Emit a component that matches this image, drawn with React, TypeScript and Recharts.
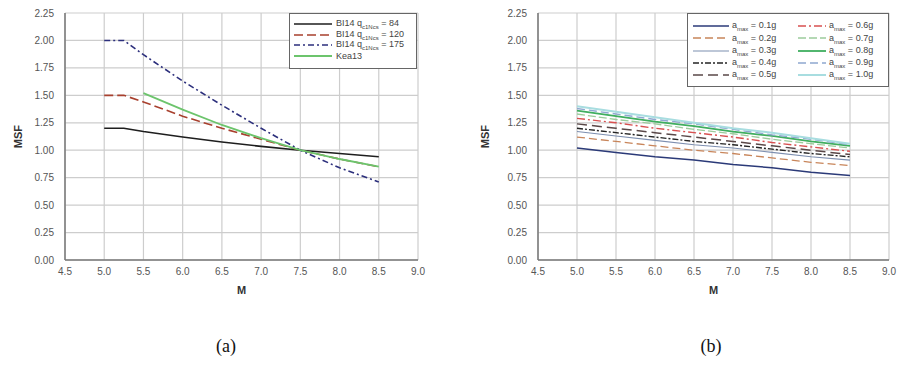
import React from 'react';
import { LineChart, Line, XAxis, YAxis, CartesianGrid, Legend } from 'recharts';

// magnitudes and MSF values
const mLeft = [5.0, 5.25, 5.5, 6.0, 6.5, 7.0, 7.5, 8.0, 8.5];
const bi84 = [1.2, 1.2, 1.17, 1.12, 1.075, 1.035, 1.0, 0.97, 0.94];
const bi120 = [1.5, 1.5, 1.44, 1.31, 1.2, 1.1, 1.0, 0.92, 0.85];
const bi175 = [2.0, 2.0, 1.87, 1.63, 1.41, 1.2, 1.0, 0.84, 0.71];
const kea13 = [null, null, 1.52, 1.37, 1.23, 1.11, 1.0, 0.92, 0.85];

const mRight = [5.0, 5.5, 6.0, 6.5, 7.0, 7.5, 8.0, 8.5];
const a01 = [1.02, 0.98, 0.94, 0.91, 0.87, 0.84, 0.8, 0.77];
const a02 = [1.12, 1.08, 1.04, 1.0, 0.97, 0.93, 0.89, 0.86];
const a03 = [1.17, 1.13, 1.09, 1.05, 1.02, 0.98, 0.94, 0.91];
const a04 = [1.2, 1.16, 1.12, 1.08, 1.05, 1.01, 0.97, 0.94];
const a05 = [1.24, 1.2, 1.16, 1.12, 1.08, 1.04, 1.0, 0.96];
const a06 = [1.29, 1.25, 1.2, 1.16, 1.12, 1.07, 1.03, 0.99];
const a07 = [1.33, 1.28, 1.24, 1.19, 1.15, 1.1, 1.06, 1.02];
const a08 = [1.36, 1.31, 1.26, 1.22, 1.17, 1.13, 1.08, 1.04];
const a09 = [1.38, 1.33, 1.28, 1.24, 1.19, 1.14, 1.1, 1.05];
const a10 = [1.4, 1.35, 1.3, 1.25, 1.2, 1.16, 1.11, 1.06];

const xTicks = [4.5, 5.0, 5.5, 6.0, 6.5, 7.0, 7.5, 8.0, 8.5, 9.0];
const yTicks = [0, 0.25, 0.5, 0.75, 1.0, 1.25, 1.5, 1.75, 2.0, 2.25];

const leftData = mLeft.map((m, i) => ({ m, bi84: bi84[i], bi120: bi120[i], bi175: bi175[i], kea13: kea13[i] }));
const rightSeries = [a01, a02, a03, a04, a05, a06, a07, a08, a09, a10];
const rightData = mRight.map((m, i) => {
  const row: any = { m };
  rightSeries.forEach((s, k) => { row['a' + k] = s[i]; });
  return row;
});

const leftStyles = [
  { key: 'bi84', q: '84', color: '#1e1e1e', dash: undefined, w: 1.6 },
  { key: 'bi120', q: '120', color: '#a8402e', dash: '9 4', w: 1.6 },
  { key: 'bi175', q: '175', color: '#2c2f7c', dash: '6 3 2 3', w: 1.6 },
];

const rightStyles = [
  { label: '0.1g', color: '#2b3a78', dash: undefined, w: 1.5 },
  { label: '0.2g', color: '#c8855a', dash: '8 4', w: 1.3 },
  { label: '0.3g', color: '#7d8fb0', dash: undefined, w: 1.1 },
  { label: '0.4g', color: '#252525', dash: '6 2 2 2', w: 1.4 },
  { label: '0.5g', color: '#5a4848', dash: '10 5', w: 1.5 },
  { label: '0.6g', color: '#d85050', dash: '8 3 2 3', w: 1.4 },
  { label: '0.7g', color: '#9ccc9c', dash: '8 3', w: 1.3 },
  { label: '0.8g', color: '#3fae5f', dash: undefined, w: 1.8 },
  { label: '0.9g', color: '#8fa8d0', dash: '8 4', w: 1.4 },
  { label: '1.0g', color: '#a8dde0', dash: undefined, w: 2 },
];

const tickStyle = { fill: '#555', fontSize: 10, fontFamily: 'Liberation Sans, Arial, sans-serif' };
const labelStyle = { fill: '#333', fontSize: 11, fontWeight: 'bold', fontFamily: 'Liberation Sans, Arial, sans-serif' };
const gridColor = '#cdcdcd';
const frameColor = '#777';

const Sample = ({ color, dash, w, len }: any) => (
  <svg width={len} height={6} style={{ display: 'block' }}>
    <line x1={0} y1={3} x2={len} y2={3} stroke={color} strokeWidth={w} strokeDasharray={dash} />
  </svg>
);

const LeftLegend = () => (
  <div style={{ border: '1.5px solid #666', background: '#fff', width: 128, height: 56, boxSizing: 'border-box', padding: '5px 0 0 4px', fontFamily: 'Liberation Sans, Arial, sans-serif', fontSize: 9, color: '#444' }}>
    {leftStyles.map((s) => (
      <div key={s.key} style={{ display: 'flex', alignItems: 'center', height: 10.5 }}>
        <Sample color={s.color} dash={s.dash} w={s.w} len={38} />
        <span style={{ marginLeft: 4, whiteSpace: 'nowrap' }}>BI14 q<sub style={{ fontSize: 6 }}>c1Ncs</sub> = {s.q}</span>
      </div>
    ))}
    <div style={{ display: 'flex', alignItems: 'center', height: 10.5 }}>
      <Sample color="#6cc46c" w={1.8} len={38} />
      <span style={{ marginLeft: 4 }}>Kea13</span>
    </div>
  </div>
);

const RightLegend = () => (
  <div style={{ border: '1.5px solid #666', background: '#fff', width: 202, height: 74, boxSizing: 'border-box', padding: '6px 0 0 5px', display: 'grid', gridTemplateColumns: '105px 95px', gridAutoFlow: 'column', gridTemplateRows: 'repeat(5, 12.3px)', fontFamily: 'Liberation Sans, Arial, sans-serif', fontSize: 9, color: '#444' }}>
    {rightStyles.map((s) => (
      <div key={s.label} style={{ display: 'flex', alignItems: 'center' }}>
        <Sample color={s.color} dash={s.dash} w={s.w} len={s.label < '0.6g' ? 36 : 28} />
        <span style={{ marginLeft: 3, whiteSpace: 'nowrap' }}>a<sub style={{ fontSize: 6 }}>max</sub> = {s.label}</span>
      </div>
    ))}
  </div>
);

const Frame = () => [
  <XAxis key="xt" xAxisId="top" orientation="top" type="number" domain={[0, 1]} height={0} tick={false} tickLine={false} axisLine={{ stroke: frameColor, strokeWidth: 1.5 }} />,
  <YAxis key="yr" yAxisId="right" orientation="right" type="number" domain={[0, 1]} width={0} tick={false} tickLine={false} axisLine={{ stroke: frameColor, strokeWidth: 1.5 }} />,
];

const axes = (yWidth: number) => [
  <CartesianGrid key="g" stroke={gridColor} strokeWidth={1.2} horizontalValues={yTicks} verticalValues={xTicks} />,
  <XAxis key="x" dataKey="m" type="number" domain={[4.5, 9]} ticks={xTicks} tickFormatter={(v: number) => v.toFixed(1)} tick={tickStyle} tickLine={false} tickMargin={2} height={40} axisLine={{ stroke: frameColor, strokeWidth: 1.5 }} label={{ value: 'M', position: 'insideBottom', offset: 6, style: labelStyle }} />,
  <YAxis key="y" type="number" domain={[0, 2.25]} ticks={yTicks} tickFormatter={(v: number) => v.toFixed(2)} tick={tickStyle} tickLine={false} tickMargin={5} width={yWidth} axisLine={{ stroke: frameColor, strokeWidth: 1.5 }} label={{ value: 'MSF', angle: -90, position: 'center', dx: yWidth === 65 ? -14 : -19, style: labelStyle }} />,
  ...Frame(),
];

export default function App() {
  return (
    <div style={{ position: 'absolute', left: 0, top: 0, width: 902, height: 369, background: '#fff' }}>
      <div style={{ position: 'absolute', left: 0, top: 0 }}>
        <LineChart width={430} height={300} data={leftData} margin={{ top: 13, right: 12, left: 0, bottom: 0 }}>
          {axes(65)}
          {leftStyles.map((s) => (
            <Line key={s.key} dataKey={s.key} type="linear" stroke={s.color} strokeWidth={s.w} strokeDasharray={s.dash} dot={false} isAnimationActive={false} />
          ))}
          <Line dataKey="kea13" type="linear" stroke="#6cc46c" strokeWidth={1.8} dot={false} isAnimationActive={false} />
          <Legend verticalAlign="middle" align="center" content={<LeftLegend />} wrapperStyle={{ top: 13, left: 289, width: 128, height: 56 }} />
        </LineChart>
      </div>
      <div style={{ position: 'absolute', left: 470, top: 0 }}>
        <LineChart width={430} height={300} data={rightData} margin={{ top: 13, right: 11, left: 0, bottom: 0 }}>
          {axes(68)}
          {rightStyles.map((s, k) => (
            <Line key={s.label} dataKey={'a' + k} type="linear" stroke={s.color} strokeWidth={s.w} strokeDasharray={s.dash} dot={false} isAnimationActive={false} />
          ))}
          <Legend verticalAlign="middle" align="center" content={<RightLegend />} wrapperStyle={{ top: 13, left: 217, width: 202, height: 74 }} />
        </LineChart>
      </div>
      <div style={{ position: 'absolute', left: 206, top: 336, width: 40, textAlign: 'center', fontFamily: 'Liberation Serif, Times New Roman, serif', fontSize: 18, color: '#111' }}>(a)</div>
      <div style={{ position: 'absolute', left: 691, top: 336, width: 40, textAlign: 'center', fontFamily: 'Liberation Serif, Times New Roman, serif', fontSize: 18, color: '#111' }}>(b)</div>
    </div>
  );
}
